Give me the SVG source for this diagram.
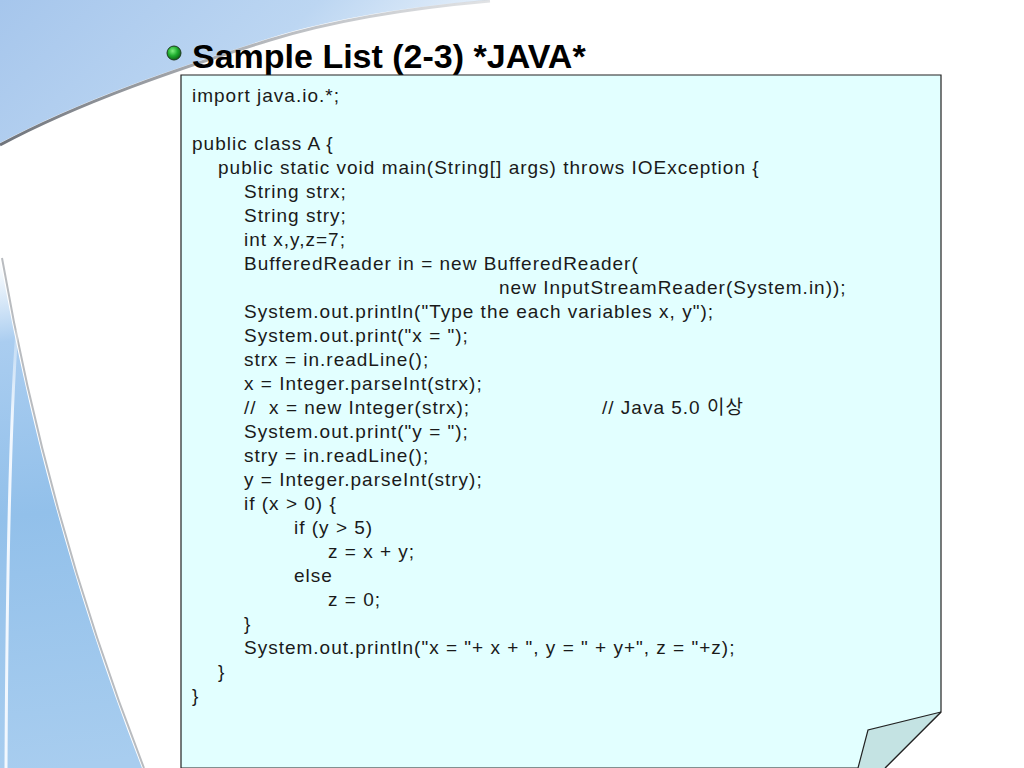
<svg xmlns="http://www.w3.org/2000/svg" width="1024" height="768" viewBox="0 0 1024 768">
<defs>
<style>
.code{font-family:"Liberation Sans","Noto Sans CJK KR",sans-serif;font-size:19px;letter-spacing:1px;fill:#1a1a1a;white-space:pre}
.title{font-family:"Liberation Sans",Arial,sans-serif;font-size:34px;font-weight:bold;fill:#000}
</style>
<linearGradient id="topBlue" x1="0" y1="0" x2="1" y2="0.3">
<stop offset="0" stop-color="#a6c6ec"/>
<stop offset="0.6" stop-color="#bcd6f2"/>
<stop offset="1" stop-color="#eef5fc"/>
</linearGradient>
<linearGradient id="sideBlue" gradientUnits="userSpaceOnUse" x1="0" y1="260" x2="60" y2="768">
<stop offset="0" stop-color="#b8d6f2" stop-opacity="0"/>
<stop offset="0.16" stop-color="#aacdf0" stop-opacity="1"/>
<stop offset="0.5" stop-color="#92c0ea"/>
<stop offset="1" stop-color="#a8cdef"/>
</linearGradient>
<linearGradient id="hiFade" gradientUnits="userSpaceOnUse" x1="0" y1="300" x2="0" y2="420">
<stop offset="0" stop-color="#ffffff" stop-opacity="0"/>
<stop offset="1" stop-color="#f6faff" stop-opacity="0.95"/>
</linearGradient>
<linearGradient id="shadowFade" x1="0" y1="0" x2="1" y2="0">
<stop offset="0" stop-color="#5f646c" stop-opacity="0.9"/>
<stop offset="1" stop-color="#9aa0a8" stop-opacity="0.3"/>
</linearGradient>
<radialGradient id="ball" cx="0.4" cy="0.35" r="0.7">
<stop offset="0" stop-color="#7fef7f"/>
<stop offset="0.5" stop-color="#1fae2f"/>
<stop offset="1" stop-color="#0a5a12"/>
</radialGradient>
</defs>
<rect width="1024" height="768" fill="#ffffff"/>
<g id="background">
<path d="M0,0 H490 C410,6 335,18 270,38 C180,66 80,100 0,143 Z" fill="url(#topBlue)"/>
<path d="M0,145 C80,102 180,68 270,40 C335,20 410,8 490,1" fill="none" stroke="url(#shadowFade)" stroke-width="3"/>
<path d="M0,258 C22,383 62,562 142,768 L0,768 Z" fill="url(#sideBlue)"/>
<path d="M2,258 C24,384 64,563 144,768" fill="none" stroke="#8a8f96" stroke-width="2" stroke-opacity="0.6"/>
<path d="M17,330 C10,420 7,560 6,768" fill="none" stroke="url(#hiFade)" stroke-width="3"/>
</g>
<g id="title">
<circle cx="174" cy="53" r="7" fill="url(#ball)" stroke="#1f3a1f" stroke-width="1"/>
<text class="title" x="192" y="68">Sample List (2-3) *JAVA*</text>
</g>
<g id="codebox">
<path d="M181,75 H941 V712 L885,768 H181 Z" fill="#e2ffff" stroke="#222" stroke-width="1.2"/>
<path d="M941,712 L868,730 L858,768 H885 Z" fill="#c4e3e3"/>
<path d="M941,712 L868,730 L858,768" fill="none" stroke="#222" stroke-width="1.2"/>
<path d="M941,712 L885,768" fill="none" stroke="#222" stroke-width="1.2"/>
</g>
<g id="code">
<text class="code" x="192" y="102">import java.io.*;</text>
<text class="code" x="192" y="150">public class A {</text>
<text class="code" x="218" y="174">public static void main(String[] args) throws IOException {</text>
<text class="code" x="244" y="198">String strx;</text>
<text class="code" x="244" y="222">String stry;</text>
<text class="code" x="244" y="246">int x,y,z=7;</text>
<text class="code" x="244" y="270">BufferedReader in = new BufferedReader(</text>
<text class="code" x="499" y="294">new InputStreamReader(System.in));</text>
<text class="code" x="244" y="318">System.out.println("Type the each variables x, y");</text>
<text class="code" x="244" y="342">System.out.print("x = ");</text>
<text class="code" x="244" y="366">strx = in.readLine();</text>
<text class="code" x="244" y="390">x = Integer.parseInt(strx);</text>
<text class="code" x="244" y="414">//  x = new Integer(strx);</text>
<text class="code" x="602" y="414">// Java 5.0 이상</text>
<text class="code" x="244" y="438">System.out.print("y = ");</text>
<text class="code" x="244" y="462">stry = in.readLine();</text>
<text class="code" x="244" y="486">y = Integer.parseInt(stry);</text>
<text class="code" x="244" y="510">if (x &gt; 0) {</text>
<text class="code" x="294" y="534">if (y &gt; 5)</text>
<text class="code" x="328" y="558">z = x + y;</text>
<text class="code" x="294" y="582">else</text>
<text class="code" x="328" y="606">z = 0;</text>
<text class="code" x="244" y="630">}</text>
<text class="code" x="244" y="654">System.out.println("x = "+ x + ", y = " + y+", z = "+z);</text>
<text class="code" x="218" y="678">}</text>
<text class="code" x="192" y="702">}</text>
</g>
</svg>
